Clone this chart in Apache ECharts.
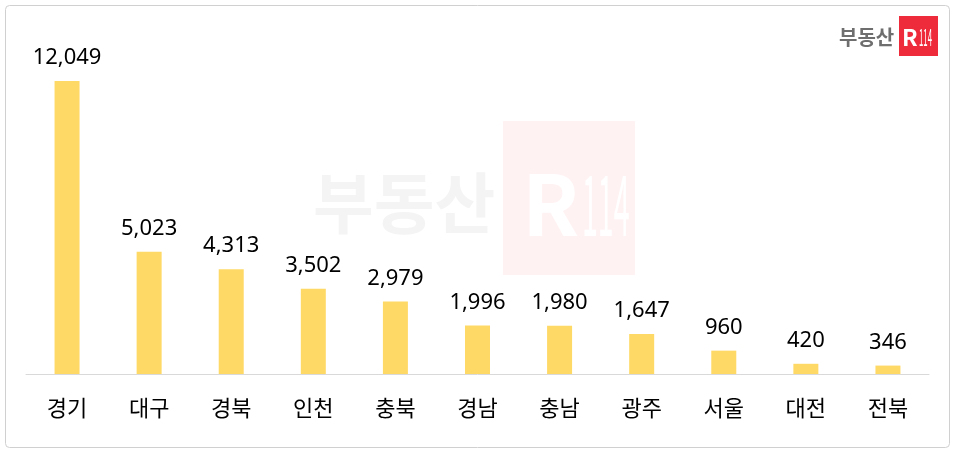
<!DOCTYPE html>
<html>
<head>
<meta charset="utf-8">
<script src="https://cdn.jsdelivr.net/npm/echarts@6/dist/echarts.min.js"></script>
<style>
html,body{margin:0;padding:0;background:#fff;}
#c{width:955px;height:453px;}
</style>
</head>
<body>
<div id="c"></div>
<script>
var categories = ['경기','대구','경북','인천','충북','경남','충남','광주','서울','대전','전북'];
var values = [12049, 5023, 4313, 3502, 2979, 1996, 1980, 1647, 960, 420, 346];

var chart = echarts.init(document.getElementById('c'));
var font = '"Noto Sans CJK KR", "Noto Sans", sans-serif';
var numFont = '"Noto Sans", "Open Sans", sans-serif';
chart.setOption({
  animation: false,
  backgroundColor: '#fff',
  grid: {left: 26, right: 26, top: 33.6, bottom: 79, containLabel: false},
  xAxis: {
    type: 'category',
    data: categories,
    axisLine: {lineStyle: {color: '#D9D9D9', width: 1}},
    axisTick: {show: false},
    axisLabel: {color: '#000', fontSize: 22, fontFamily: font, margin: 23}
  },
  yAxis: {
    type: 'value',
    min: 0, max: 14000,
    show: false,
    splitLine: {show: false}
  },
  series: [{
    type: 'bar',
    data: values,
    barWidth: 25,
    itemStyle: {color: '#FFD966'},
    label: {
      show: true, position: 'top', distance: 12,
      color: '#000', fontSize: 22, fontFamily: numFont,
      formatter: function(p){ return p.value.toLocaleString('en-US'); }
    }
  }],
  graphic: [
    {type: 'rect', z: -10, shape: {x: 5.5, y: 5.5, width: 944, height: 442, r: 4}, style: {fill: 'none', stroke: '#D0D0D0', lineWidth: 1}},
    // watermark
    {type: 'text', z: -5, x: 313, y: 203, style: {text: '부동산', fontSize: 66, fontWeight: 'bold', fontFamily: font, fill: '#F4F4F4', textVerticalAlign: 'middle'}},
    {type: 'rect', z: -5, shape: {x: 503, y: 121, width: 132, height: 154}, style: {fill: '#FFF2F3'}},
    {type: 'text', z: -4, x: 522, y: 204, style: {text: 'R', fontSize: 84, fontWeight: 'bold', fontFamily: font, fill: '#FFFFFF', textVerticalAlign: 'middle'}},
    {type: 'text', z: -4, x: 582, y: 204, scaleX: 0.34, style: {text: '114', fontSize: 84, fontWeight: 'normal', fontFamily: font, fill: '#FFFFFF', textVerticalAlign: 'middle'}},
    // logo
    {type: 'text', x: 839, y: 37, style: {text: '부동산', fontSize: 20, fontWeight: 'bold', fontFamily: font, fill: '#6E6E6E', textVerticalAlign: 'middle'}},
    {type: 'rect', shape: {x: 899, y: 16, width: 39, height: 40}, style: {fill: '#EE2B3B'}},
    {type: 'text', x: 902, y: 37, style: {text: 'R', fontSize: 23, fontWeight: 'bold', fontFamily: font, fill: '#FFFFFF', textVerticalAlign: 'middle'}},
    {type: 'text', x: 919, y: 37, scaleX: 0.34, style: {text: '114', fontSize: 23, fontWeight: 'normal', fontFamily: font, fill: '#FFFFFF', textVerticalAlign: 'middle'}}
  ]
});
</script>
</body>
</html>
